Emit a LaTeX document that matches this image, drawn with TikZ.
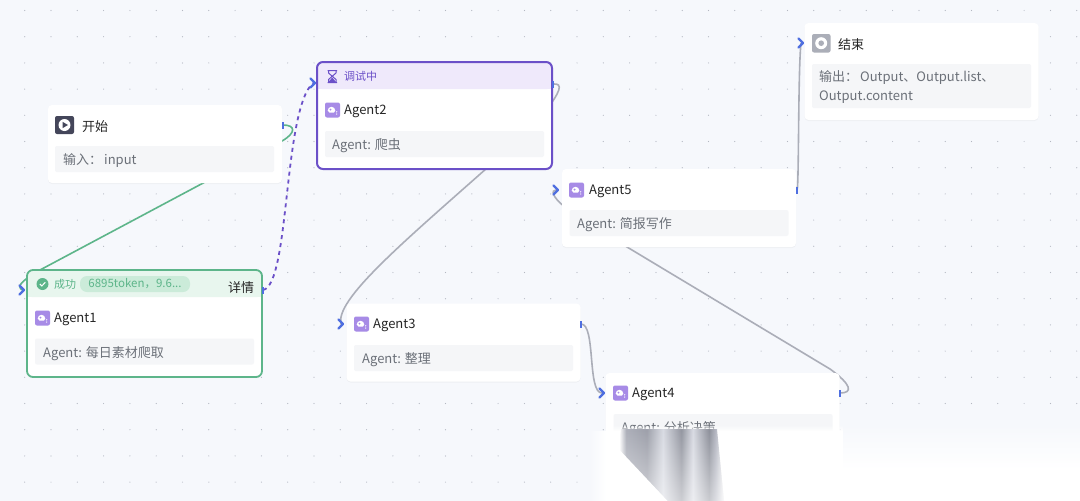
\documentclass[tikz,border=0pt]{standalone}
\usepackage{fontspec}
\setmainfont{Noto Sans CJK SC}
\usetikzlibrary{shadows,fadings}

\definecolor{canvasbg}{HTML}{F6F8FC}
\definecolor{griddot}{HTML}{B4B8C2}
\definecolor{bodybg}{HTML}{F5F6F8}
\definecolor{bodytxt}{HTML}{6B7078}
\definecolor{porthue}{HTML}{4F6FE0}
\definecolor{okgreen}{HTML}{5DB58A}
\definecolor{oktint}{HTML}{E8F6EE}
\definecolor{okpill}{HTML}{CBEBD9}
\definecolor{runpurple}{HTML}{6B50C8}
\definecolor{runtint}{HTML}{EFE9FB}
\definecolor{agenticon}{HTML}{A78BE6}
\definecolor{starticon}{HTML}{44465A}
\definecolor{wirehue}{HTML}{ABAEB8}

\pgfdeclarelayer{canvas}
\pgfdeclarelayer{wires}
\pgfdeclarelayer{top}
\pgfsetlayers{canvas,wires,main,top}
\tikzfading[name=fadeedge,top color=transparent!100,bottom color=transparent!0]
\pgfdeclarehorizontalshading{smearband}{100bp}{
  rgb(0bp)=(1,1,1); rgb(25bp)=(1,1,1); rgb(29bp)=(1,1,1); rgb(32bp)=(.68,.69,.73); rgb(41bp)=(.62,.63,.67);
  rgb(48bp)=(.85,.86,.89); rgb(56bp)=(.58,.59,.63); rgb(61bp)=(.85,.86,.89);
  rgb(68bp)=(.56,.57,.61); rgb(71bp)=(.72,.73,.77); rgb(75bp)=(1,1,1); rgb(100bp)=(1,1,1)}

\tikzset{
  card/.style={fill=white,rounded corners=4pt,minimum width=234pt,minimum height=78pt,inner sep=0pt,
    drop shadow={opacity=0.07,shadow xshift=0pt,shadow yshift=-1pt}},
  bodybox/.style={fill=bodybg,rounded corners=2pt,minimum width=219pt,minimum height=26pt,inner sep=0pt},
  titletxt/.style={anchor=west,inner sep=0pt,yshift=-1.2pt,text=black!85,font=\fontsize{13}{15}\selectfont},
  bodytxt/.style={anchor=west,inner sep=0pt,yshift=-1.2pt,text=bodytxt,font=\fontsize{13}{19}\selectfont},
  statetxt/.style={anchor=west,inner sep=0pt,font=\fontsize{11}{13}\selectfont},
  portin/.style={draw=porthue,line width=2.4pt,line cap=round,line join=round},
  portout/.style={draw=porthue,line width=1.6pt},
  wire/.style={draw=wirehue,line width=1.6pt},
}

% small icon of the agent cards
\newcommand{\agentmark}[1]{
  \fill[agenticon,rounded corners=2pt] ([shift={(-7.5,-7.5)}]#1) rectangle ([shift={(7.5,7.5)}]#1);
  \fill[white] ([shift={(-4.8,0.6)}]#1) arc[start angle=180,end angle=360,radius=3.8] -- ([shift={(1.5,2.6)}]#1) -- ([shift={(-3,2.6)}]#1) -- cycle;
  \fill[agenticon] ([shift={(-2,-0.4)}]#1) circle[radius=1.1];
  \fill[white] ([shift={(4.2,1.8)}]#1) circle[radius=0.7];
  \fill[white] ([shift={(4.2,4)}]#1) circle[radius=0.7];
}

\begin{document}
\begin{tikzpicture}[x=1pt,y=-1pt]
  \useasboundingbox (0,0) rectangle (1080,501);
  \begin{pgfonlayer}{canvas}
    \fill[canvasbg] (0,0) rectangle (1080,501);
    % dotted canvas
    \foreach \r in {0,...,18}
      \foreach \c in {-1,...,40}
        \fill[griddot] ({24.7+26.3*\c},{10.5+26.2*\r}) circle[radius=0.6];
  \end{pgfonlayer}

  % cards
  \node[card] (start) at (165,144) {};
  \node[card,minimum height=107pt] (agent1) at (144.5,323.5) {};
  \node[card,minimum height=107pt] (agent2) at (434.5,115.5) {};
  \node[card] (agent3) at (463.5,342.5) {};
  \node[card] (agent4) at (722.5,412) {};
  \node[card] (agent5) at (679,208) {};
  \node[card,minimum height=97pt] (finish) at (921.5,71.5) {};

  % state headers
  \fill[oktint,rounded corners=4pt] (28,271) rectangle (261,297);
  \fill[oktint] (28,285) rectangle (261,297);
  \fill[runtint,rounded corners=4pt] (318,63) rectangle (551,89);
  \fill[runtint] (318,77) rectangle (551,89);
  \draw[okgreen,line width=1.8pt,rounded corners=6pt] (27,270) rectangle (262,377);
  \draw[runpurple,line width=2pt,rounded corners=6pt] (317,62) rectangle (552,169);

  % body boxes
  \node[bodybox] (start-body) at (164.5,159) {};
  \node[bodybox] (agent1-body) at (144.5,351.5) {};
  \node[bodybox] (agent2-body) at (434.5,144) {};
  \node[bodybox] (agent3-body) at (463.5,358) {};
  \node[bodybox] (agent4-body) at (723,427) {};
  \node[bodybox] (agent5-body) at (679,223) {};
  \node[bodybox,minimum height=44pt] (finish-body) at (921.5,86) {};

  % icons
  \coordinate (icon1) at (42.5,318);
  \coordinate (icon2) at (332.5,110);
  \coordinate (icon3) at (361.5,324);
  \coordinate (icon4) at (620.5,393);
  \coordinate (icon5) at (576.5,190);
  \agentmark{icon1}
  \agentmark{icon2}
  \agentmark{icon3}
  \agentmark{icon4}
  \agentmark{icon5}
  \fill[starticon,rounded corners=2pt] (55,116) rectangle (74,134);
  \fill[white] (64.5,125) circle[radius=6];
  \fill[starticon] (62.5,121.8) -- (68,125) -- (62.5,128.2) -- cycle;
  \fill[wirehue,rounded corners=2pt] (812,34) rectangle (830.5,52.5);
  \fill[white] (821.2,43.2) circle[radius=6];
  \fill[wirehue] (821.2,43.2) circle[radius=2.8];
  \fill[okgreen] (42.5,284) circle[radius=6];
  \draw[white,line width=1pt] (39.8,284) -- (41.8,286) -- (45.3,282.3);
  \draw[runpurple,line width=1pt] (327.5,70.5) -- (337,70.5) (327.5,82.5) -- (337,82.5)
    (328.5,70.5) -- (328.5,73) -- (336,79.5) -- (336,82.5) (336,70.5) -- (336,73) -- (328.5,79.5) -- (328.5,82.5);
  \fill[runpurple] (328.5,82) -- (332.2,77.5) -- (336,82) -- cycle;

  % titles
  \node[titletxt] (start-title) at (82,125) {开始};
  \node[titletxt] (agent1-title) at (54,318) {Agent1};
  \node[titletxt] (agent2-title) at (344,110) {Agent2};
  \node[titletxt] (agent3-title) at (373,324) {Agent3};
  \node[titletxt] (agent4-title) at (632,393) {Agent4};
  \node[titletxt] (agent5-title) at (589,190) {Agent5};
  \node[titletxt] (finish-title) at (838,43.5) {结束};

  % body texts
  \node[bodytxt] (start-text) at (63,159) {输入：\hspace{2pt}input};
  \node[bodytxt] (agent1-text) at (43,352) {Agent: 每日素材爬取};
  \node[bodytxt] (agent2-text) at (332,144) {Agent: 爬虫};
  \node[bodytxt] (agent3-text) at (362,358) {Agent: 整理};
  \node[bodytxt] (agent4-text) at (621,427) {Agent: 分析决策};
  \node[bodytxt] (agent5-text) at (577,223) {Agent: 简报写作};
  \node[bodytxt,align=left] (finish-text) at (819,86) {输出：\hspace{2pt}Output、Output.list、\\Output.content};

  % state texts
  \node[statetxt,text=okgreen] (ok-text) at (54,284) {成功};
  \node[fill=okpill,rounded corners=7pt,minimum width=110pt,minimum height=16pt,inner sep=0pt,
    text=okgreen,font=\fontsize{11.5}{13}\selectfont] (ok-pill) at (135,284) {6895token，9.6...};
  \node[titletxt] (ok-more) at (228,286) {详情};
  \node[statetxt,text=runpurple] (run-text) at (344,76) {调试中};

  % ports
  \coordinate (start-out) at (283,125);
  \coordinate (agent1-in) at (22,290);
  \coordinate (agent1-out) at (263,290);
  \coordinate (agent2-in) at (313,83);
  \coordinate (agent2-out) at (553,84);
  \coordinate (agent3-in) at (341,324);
  \coordinate (agent3-out) at (581,324);
  \coordinate (agent4-in) at (602,393);
  \coordinate (agent4-out) at (840,393);
  \coordinate (agent5-in) at (556,190);
  \coordinate (agent5-out) at (797,190);
  \coordinate (finish-in) at (801,43);

  % connectors
  \begin{pgfonlayer}{wires}
    \draw[okgreen,line width=1.6pt] (start-out) .. controls (296,125) and (296,133) .. (282,141)
      -- (40,270) .. controls (20,282) and (17,286) .. (agent1-in);
    \draw[runpurple,line width=1.8pt,dash pattern=on 4pt off 4pt] (agent1-out) .. controls (290,285) and (283,110) .. (agent2-in);
    \draw[wire] (agent2-out) .. controls (564,83) and (560,92) .. (545,112)
      -- (487,168) .. controls (400,245) and (335,300) .. (agent3-in);
    \draw[wire] (agent3-out) .. controls (596,324) and (587,393) .. (agent4-in);
    \draw[wire] (agent4-out) .. controls (853,393) and (852,385) .. (830,369)
      -- (627,247) -- (565,207) .. controls (552,197) and (551,190) .. (agent5-in);
    \draw[wire] (agent5-out) .. controls (799,190) and (798,70) .. (finish-in);
  \end{pgfonlayer}

  % port marks
  \foreach \p in {agent1-in,agent2-in,agent3-in,agent4-in,agent5-in,finish-in}
    \draw[portin] ([shift={(-2.5,-4.5)}]\p) -- ([shift={(2,0)}]\p) -- ([shift={(-2.5,4.5)}]\p);
  \foreach \p in {start-out,agent1-out,agent2-out,agent3-out,agent4-out,agent5-out}
    \draw[portout] ([yshift=-3.5pt]\p) -- ([yshift=3.5pt]\p);

  % washed out corner
  \begin{pgfonlayer}{top}
    \fill[white,path fading=fadeedge] (606,425) rectangle (843,431);
    \fill[white] (606,431) rectangle (843,501);
    \shade[top color=canvasbg,bottom color=white] (843,425) rectangle (1080,470);
    \fill[white] (843,470) rectangle (1080,501);
    \shade[left color=canvasbg,right color=white] (590,431) rectangle (606,501);
    \begin{scope}
      \clip (621,429) -- (717,429) -- (724,501) -- (668,501) -- (618,448) -- cycle;
      \shade[shading=smearband] (610,425) rectangle (725,501);
      \fill[white,opacity=0.6,path fading=fadeedge] (610,430) rectangle (725,510);
    \end{scope}
  \end{pgfonlayer}
\end{tikzpicture}
\end{document}
